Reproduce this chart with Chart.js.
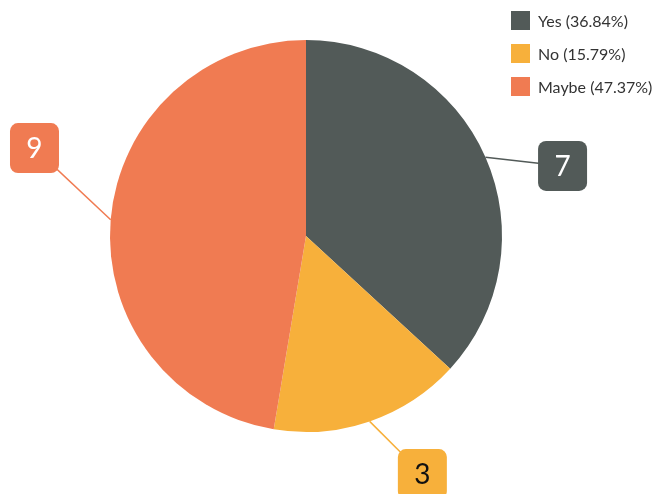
<!DOCTYPE html>
<html>
<head>
<meta charset="utf-8">
<script src="https://cdn.jsdelivr.net/npm/chart.js@4"></script>
<style>
    body { margin: 0; background: #fff; font-family: Lato, sans-serif; }
    #wrap { position: relative; width: 662px; height: 494px; overflow: hidden; }
    #legend { position: absolute; left: 511px; top: 11px; }
    .item { display: flex; align-items: center; height: 19px; margin-bottom: 14px; font-size: 16px; color: #333; }
    .item span.box { width: 19px; height: 19px; margin-right: 8px; }
</style>
</head>
<body>
<div id="wrap">
    <canvas id="pie" width="662" height="494"></canvas>
    <div id="legend"></div>
</div>
<script>
// Data
const labels = ['Yes', 'No', 'Maybe'];
const counts = [7, 3, 9];
const colors = ['#525a58', '#f7b03b', '#f07b52'];
const textColors = ['#ffffff', '#111111', '#ffffff'];

// Label box placement (angle shift in degrees, distance as fraction of radius)
const labelShift = [8.4, -7.1, 13.2];
const labelDist = [1.357, 1.352, 1.456];

const total = counts.reduce((a, b) => a + b, 0);

// HTML legend
const legend = document.getElementById('legend');
labels.forEach((l, i) => {
    const pct = (counts[i] / total * 100).toFixed(2);
    const row = document.createElement('div');
    row.className = 'item';
    row.innerHTML = '<span class="box" style="background:' + colors[i] + '"></span>' + l + ' (' + pct + '%)';
    legend.appendChild(row);
});

// Draw callout boxes with leader lines
const calloutPlugin = {
    id: 'callouts',
    afterDatasetsDraw(chart) {
        const ctx = chart.ctx;
        const meta = chart.getDatasetMeta(0);
        meta.data.forEach((arc, i) => {
            const mid = (arc.startAngle + arc.endAngle) / 2;
            const r = arc.outerRadius;
            const ax = arc.x + Math.cos(mid) * r;
            const ay = arc.y + Math.sin(mid) * r;
            const a2 = mid + labelShift[i] * Math.PI / 180;
            const bx = arc.x + Math.cos(a2) * r * labelDist[i];
            const by = arc.y + Math.sin(a2) * r * labelDist[i];

            ctx.save();
            ctx.strokeStyle = colors[i];
            ctx.lineWidth = 1.5;
            ctx.beginPath();
            ctx.moveTo(ax, ay);
            ctx.lineTo(bx, by);
            ctx.stroke();

            const w = 49, h = 50;
            ctx.fillStyle = colors[i];
            ctx.beginPath();
            ctx.roundRect(bx - w / 2, by - h / 2, w, h, 8);
            ctx.fill();

            ctx.fillStyle = textColors[i];
            ctx.font = '28px Lato';
            ctx.textAlign = 'center';
            ctx.textBaseline = 'middle';
            ctx.fillText(String(counts[i]), bx, by + 1);
            ctx.restore();
        });
    }
};

new Chart(document.getElementById('pie'), {
    type: 'pie',
    data: {
        labels: labels,
        datasets: [{
            data: counts,
            backgroundColor: colors,
            borderWidth: 0
        }]
    },
    options: {
        responsive: false,
        animation: false,
        layout: {
            padding: { left: 110, right: 160, top: 40, bottom: 62 }
        },
        plugins: {
            legend: { display: false },
            tooltip: { enabled: false }
        }
    },
    plugins: [calloutPlugin]
});
</script>
</body>
</html>
